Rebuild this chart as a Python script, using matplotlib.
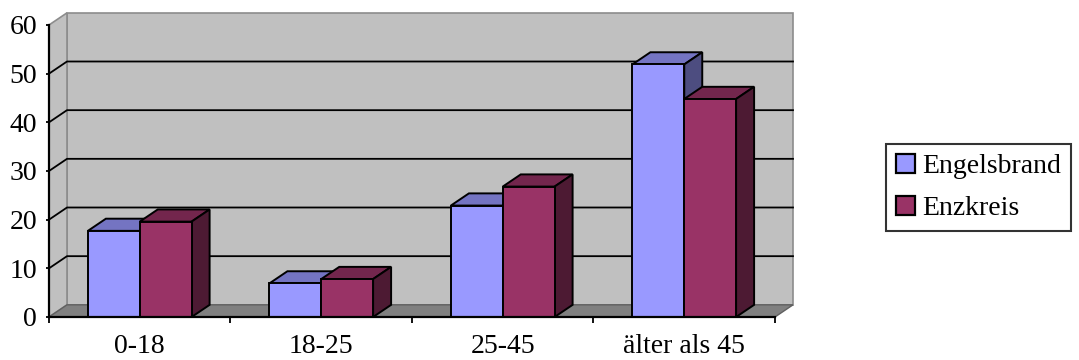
import matplotlib
matplotlib.use("Agg")
import matplotlib.pyplot as plt
from matplotlib.patches import Polygon, Patch

plt.rcParams['font.family'] = ['Liberation Serif', 'DejaVu Serif']

categories = ['0-18', '18-25', '25-45', 'älter als 45']
engelsbrand = [17.7, 6.9, 22.9, 51.9]
enzkreis = [19.6, 7.8, 26.8, 44.8]
series_names = ['Engelsbrand', 'Enzkreis']
y_ticks = [0, 10, 20, 30, 40, 50, 60]

# face colours: front, top, side
blue = ('#9999FF', '#7474C2', '#4D4D80')
red = ('#993366', '#73264D', '#4D1A33')

W, H = 1079, 360
fig = plt.figure(figsize=(W / 100, H / 100), dpi=100)
ax = fig.add_axes([49 / W, (H - 317) / H, (775 - 49) / W, 292 / H])
ax.set_xlim(0, len(categories))
ax.set_ylim(0, 60)
ax.patch.set_visible(False)

# depth offset of the 3d box, in data units
ddx = 18 / 181.5
ddy = 2.5
n = len(categories)
top = y_ticks[-1]

def poly(pts, fc, ec, lw, z):
    p = Polygon(pts, closed=True, facecolor=fc, edgecolor=ec, linewidth=lw,
                zorder=z, clip_on=False, joinstyle='miter')
    ax.add_patch(p)

# walls and floor
poly([(ddx, ddy), (n + ddx, ddy), (n + ddx, top + ddy), (ddx, top + ddy)],
     '#C0C0C0', '#8C8C8C', 1.2, 0.5)
poly([(0, 0), (ddx, ddy), (ddx, top + ddy), (0, top)],
     '#C0C0C0', '#8C8C8C', 1.2, 0.6)
poly([(0, 0), (n, 0), (n + ddx, ddy), (ddx, ddy)],
     '#808080', '#606060', 1.0, 0.7)

for v in y_ticks[1:-1]:
    ax.plot([0, ddx, n + ddx], [v, v + ddy, v + ddy], color='black',
            lw=1.3, zorder=0.8, clip_on=False)

# bars
w = 1 / 3.5

def bar3d(x0, h, cols):
    front, topc, side = cols
    poly([(x0, h), (x0 + w, h), (x0 + w + ddx, h + ddy), (x0 + ddx, h + ddy)],
         topc, 'black', 1.4, 3)
    poly([(x0 + w, 0), (x0 + w + ddx, ddy), (x0 + w + ddx, h + ddy), (x0 + w, h)],
         side, 'black', 1.4, 3)
    poly([(x0, 0), (x0 + w, 0), (x0 + w, h), (x0, h)],
         front, 'black', 1.4, 3)

for i in range(n):
    c = i + 0.5
    bar3d(c - w, engelsbrand[i], blue)
    bar3d(c, enzkreis[i], red)

# axes
for s in ['top', 'right']:
    ax.spines[s].set_visible(False)
for s in ['left', 'bottom']:
    ax.spines[s].set_linewidth(1.6)
    ax.spines[s].set_zorder(4)

ax.set_yticks(y_ticks)
ax.tick_params(axis='y', length=2.5, width=1.3, pad=6, labelsize=20)
ax.set_xticks(range(n + 1))
ax.set_xticklabels([])
ax.set_xticks([i + 0.5 for i in range(n)], minor=True)
ax.set_xticklabels(categories, minor=True)
ax.tick_params(axis='x', which='major', length=4.5, width=1.3)
ax.tick_params(axis='x', which='minor', length=0, pad=12.5, labelsize=20)

handles = [Patch(facecolor=blue[0], edgecolor='black', linewidth=1.6),
           Patch(facecolor=red[0], edgecolor='black', linewidth=1.6)]
leg = fig.legend(handles, series_names, loc='upper left',
                 bbox_to_anchor=(886 / W, 1 - 144 / H), fontsize=20,
                 frameon=True, fancybox=False, edgecolor='black',
                 handlelength=0.68, handleheight=0.68, handletextpad=0.25,
                 labelspacing=0.6, borderpad=0.36, borderaxespad=0)
leg.get_frame().set_linewidth(1.5)

fig.savefig('out.png', dpi=100)
